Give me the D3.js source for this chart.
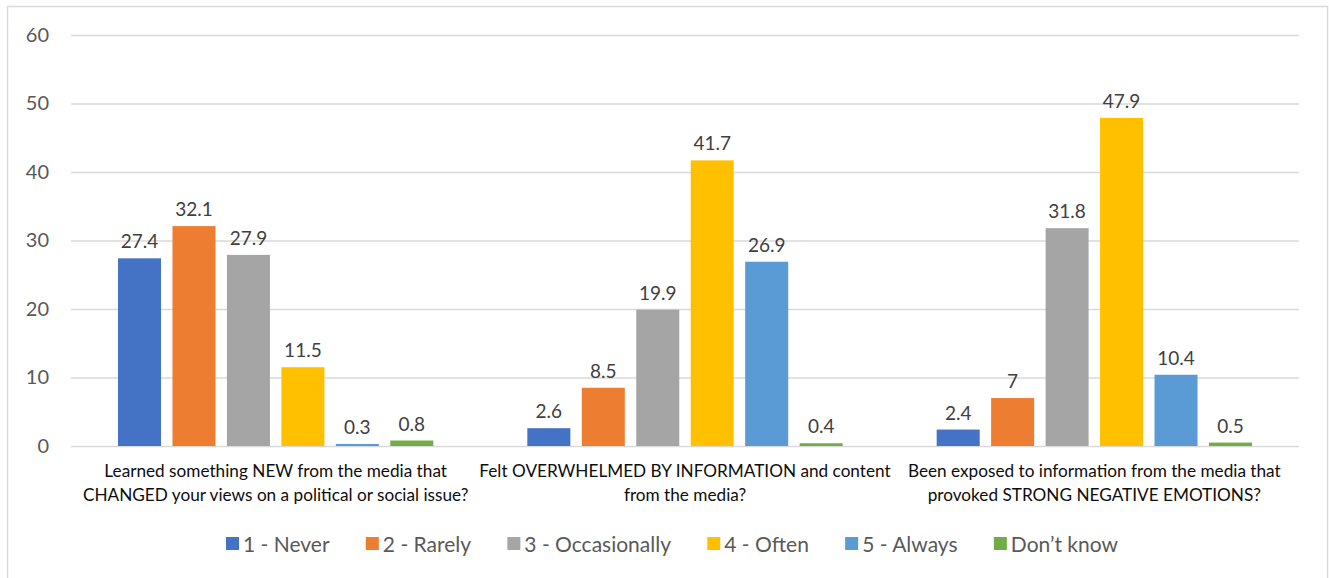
<!DOCTYPE html>
<html>
<head>
<meta charset="utf-8">
<script src="https://cdn.jsdelivr.net/npm/d3@7"></script>
<style>
  html, body { margin: 0; padding: 0; background: #fff; }
  svg { display: block; font-family: Lato, "Open Sans", sans-serif; }
</style>
</head>
<body>
<svg id="chart" width="1329" height="578"></svg>
<script>
// Survey questions (x-axis categories), each split over two lines
const categories = [
  ["Learned something NEW from the media that", "CHANGED your views on a political or social issue?"],
  ["Felt OVERWHELMED BY INFORMATION and content", "from the media?"],
  ["Been exposed to information from the media that", "provoked STRONG NEGATIVE EMOTIONS?"]
];
const seriesNames = ["1 - Never", "2 - Rarely", "3 - Occasionally", "4 - Often", "5 - Always", "Don\u2019t know"];
const seriesColors = ["#4472C4", "#ED7D31", "#A5A5A5", "#FFC000", "#5B9BD5", "#70AD47"];
// Percentages per question, in series order
const valuesQ1 = [27.4, 32.1, 27.9, 11.5, 0.3, 0.8];
const valuesQ2 = [2.6, 8.5, 19.9, 41.7, 26.9, 0.4];
const valuesQ3 = [2.4, 7, 31.8, 47.9, 10.4, 0.5];
const yTicks = [0, 10, 20, 30, 40, 50, 60];

const values = [valuesQ1, valuesQ2, valuesQ3];
const svg = d3.select("#chart");

// outer chart frame
svg.append("rect").attr("x", 7.5).attr("y", 6.5).attr("width", 1320).attr("height", 580)
  .attr("fill", "#fff").attr("stroke", "#d9d9d9").attr("stroke-width", 1.5);

const plot = { left: 71, right: 1299, top: 35, bottom: 446 };

const y = d3.scaleLinear().domain([0, 60]).range([plot.bottom, plot.top]);
const x0 = d3.scaleBand().domain(d3.range(categories.length)).range([plot.left, plot.right]).padding(0);
const inset = 47;
const x1 = d3.scaleBand().domain(d3.range(seriesNames.length))
  .range([inset, x0.bandwidth() - inset]).paddingInner(0.21).paddingOuter(0);

// gridlines
const yAxis = d3.axisLeft(y).tickValues(yTicks).tickSize(-(plot.right - plot.left)).tickFormat(d3.format("d"));
const gAxis = svg.append("g").attr("transform", `translate(${plot.left},0)`).call(yAxis);
gAxis.select(".domain").remove();
gAxis.selectAll(".tick line").attr("stroke", "#d9d9d9").attr("stroke-width", 1.5);
gAxis.selectAll(".tick text").attr("x", -22).attr("fill", "#595959")
  .style("font-size", "20px").style("font-family", "Lato, sans-serif");

// bars
const groups = svg.append("g").selectAll("g").data(values).join("g")
  .attr("transform", (d, i) => `translate(${x0(i)},0)`);

groups.selectAll("rect").data(d => d.map((v, j) => ({ v, j }))).join("rect")
  .attr("x", d => x1(d.j))
  .attr("width", x1.bandwidth())
  .attr("y", d => y(d.v))
  .attr("height", d => y(0) - y(d.v))
  .attr("fill", d => seriesColors[d.j]);

groups.selectAll("text").data(d => d.map((v, j) => ({ v, j }))).join("text")
  .attr("x", d => x1(d.j) + x1.bandwidth() / 2)
  .attr("y", d => y(d.v) - 10)
  .attr("text-anchor", "middle")
  .attr("fill", "#404040")
  .style("font-size", "19px")
  .text(d => d.v);

// category labels
const catG = svg.append("g").selectAll("text").data(categories).join("text")
  .attr("text-anchor", "middle")
  .attr("fill", "#0d0d0d")
  .style("font-size", "17.2px");
catG.each(function (lines, i) {
  const t = d3.select(this);
  lines.forEach((line, k) => {
    t.append("tspan").attr("x", x0(i) + x0.bandwidth() / 2).attr("y", 477 + k * 24).text(line);
  });
});

// legend, spread between the given left and right edges
const legendLeft = 226, legendRight = 1118;
const legend = svg.append("g");
const items = seriesNames.map((name, i) => {
  const item = legend.append("g");
  item.append("rect").attr("x", 0).attr("y", -7).attr("width", 13).attr("height", 13).attr("fill", seriesColors[i]);
  const txt = item.append("text").attr("x", 17).attr("y", 7.5).attr("fill", "#595959")
    .style("font-size", "21px").text(name);
  return { item, w: 17 + txt.node().getComputedTextLength() };
});
const totalW = d3.sum(items, d => d.w);
const gap = (legendRight - legendLeft - totalW) / (items.length - 1);
let lx = 0;
items.forEach(d => { d.item.attr("transform", `translate(${lx},0)`); lx += d.w + gap; });
legend.attr("transform", `translate(${legendLeft},544)`);
</script>
</body>
</html>
